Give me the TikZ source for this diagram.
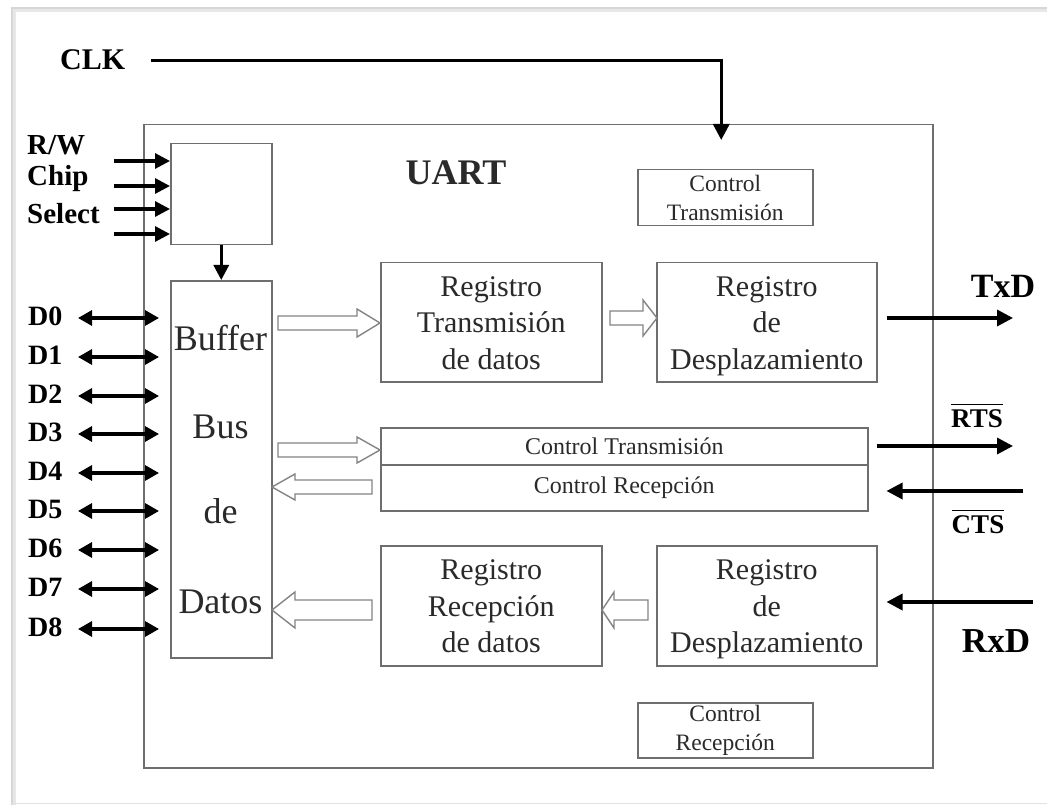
\documentclass[tikz,border=0pt]{standalone}
\usepackage{fontspec}
\setmainfont{Liberation Serif}
\usetikzlibrary{arrows.meta}
\definecolor{boxline}{HTML}{6E6E6E}
\definecolor{ink}{HTML}{2A2A2A}
\definecolor{pagefr}{HTML}{D6D6D6}
\newcommand\fsz[2]{\fontsize{#1}{#2}\selectfont}
% hollow block arrows: {x start}{x tip}{y}{shaft half}{head half}{head length}
\newcommand\hollowarrow[6]{%
  \draw[hollow] (#1,#3-#4) -- ({#2-(#6)*sign(#2-#1)},#3-#4) -- ({#2-(#6)*sign(#2-#1)},#3-#5)
    -- (#2,#3) -- ({#2-(#6)*sign(#2-#1)},#3+#5) -- ({#2-(#6)*sign(#2-#1)},#3+#4) -- (#1,#3+#4) -- cycle;}
\tikzset{
  blk/.style={draw=boxline, line width=1.5pt, inner sep=0pt, anchor=north west, text=ink, align=center},
  regtxt/.style={font=\fsz{30}{36.5}, text=ink, align=center, inner sep=0pt, yshift=-4pt},
  ctltxt/.style={font=\fsz{23.5}{29}},
  sig/.style={line width=3.4pt, -{Triangle[length=16pt,width=16pt]}},
  bus/.style={line width=3.1pt, {Triangle[length=14pt,width=15pt]}-{Triangle[length=14pt,width=15pt]}},
  pin/.style={font=\fsz{28}{30}\bfseries, text=black, inner sep=0pt},
  hollow/.style={draw=boxline!85, line width=1.4pt, fill=white, line join=miter},
}
\begin{document}
\begin{tikzpicture}[x=1pt,y=-1pt]
\useasboundingbox (0,0) rectangle (1047,805);
\fill[white] (0,0) rectangle (1047,805);
% sheet edge with a faint shadow
\draw[pagefr!60, line width=4pt] (14,805) -- (14,10) -- (1047,10);
\draw[pagefr, line width=1.2pt] (12,805) -- (12,8) -- (1047,8);
\draw[pagefr!70, line width=1pt] (12,803) -- (1047,803);

% outer UART block
\node[blk, minimum width=789pt, minimum height=643pt] (uart) at (143,124) {};
\node[font=\fsz{36}{40}\bfseries, text=ink, inner sep=0pt, anchor=base] (title) at (456,185) {UART};

% control inputs block and data buffer
\node[blk, minimum width=101pt, minimum height=101pt] (sel) at (170,143) {};
\node[blk, minimum width=101pt, minimum height=377pt] (buf) at (170,280) {};
\node[font=\fsz{36}{40}, text=ink, inner sep=0pt, anchor=base] (b1) at (220.5,350) {Buffer};
\node[font=\fsz{36}{40}, text=ink, inner sep=0pt, anchor=base] (b2) at (220.5,438) {Bus};
\node[font=\fsz{36}{40}, text=ink, inner sep=0pt, anchor=base] (b3) at (220.5,523) {de};
\node[font=\fsz{36}{40}, text=ink, inner sep=0pt, anchor=base] (b4) at (220.5,613) {Datos};

% control boxes
\node[blk, ctltxt, minimum width=175pt, minimum height=56pt] (ctx) at (637,169) {Control\\Transmisión};
\node[blk, ctltxt, minimum width=175pt, minimum height=55pt] (crx) at (637,702) {Control\\Recepción};

% registers
\node[blk, minimum width=221pt, minimum height=119pt] (rtx) at (380,262) {};
\node[blk, minimum width=220pt, minimum height=119pt] (dtx) at (656,262) {};
\node[blk, minimum width=221pt, minimum height=120pt] (rrx) at (380,545) {};
\node[blk, minimum width=220pt, minimum height=120pt] (drx) at (656,545) {};
\node[regtxt] (rtxt) at (rtx.center) {Registro\\Transmisión\\de datos\vphantom{p}};
\node[regtxt] (dtxt) at (dtx.center) {Registro\\de\\Desplazamiento};
\node[regtxt] (rrxt) at (rrx.center) {Registro\\Recepción\\de datos\vphantom{p}};
\node[regtxt] (drxt) at (drx.center) {Registro\\de\\Desplazamiento};

% flow control strip
\node[blk, font=\fsz{24}{28}, minimum width=487pt, minimum height=37pt] (fct) at (380,427) {Control Transmisión};
\node[blk, font=\fsz{24}{28}, minimum width=487pt, minimum height=46pt] (fcr) at (380,464) {Control Recepción};

% clock
\node[pin, font=\fsz{30}{32}\bfseries, anchor=base west] (clk) at (60,70) {CLK};
\draw[sig] ([xshift=26pt]clk.east) -| ([xshift=-4pt,yshift=29pt]ctx.north);

% chip select / read-write inputs
\node[pin, font=\fsz{29}{31}\bfseries, anchor=base west] (rw) at (27,155) {R/W};
\node[pin, font=\fsz{29}{31}\bfseries, anchor=base west] (chip) at (27,186) {Chip};
\node[pin, font=\fsz{29}{31}\bfseries, anchor=base west] (select) at (27,224) {Select};
\foreach \yy/\nm in {161/ia,186/ib,209/ic,234/id}{
  \coordinate (\nm) at (114,\yy);
  \draw[sig, line width=3.1pt, -{Triangle[length=15pt,width=15pt]}] (\nm) -- (sel.west |- \nm);
}
\draw[sig, line width=3.1pt, -{Triangle[length=15pt,width=15pt]}] (sel.south) -- (buf.north);

% data lines
\foreach \yy [count=\i from 0] in {318,357,396,434,473,511,550,589,629}{
  \node[pin, anchor=west] (d\i) at (28,\yy-2) {D\i};
  \coordinate (dl\i) at (78,\yy);
  \draw[bus] (dl\i) -- ([xshift=-11pt]buf.west |- dl\i);
}

% internal data paths
\hollowarrow{278}{380}{323}{7}{14}{23}
\hollowarrow{610}{657}{318}{7}{18}{14}
\hollowarrow{278}{380}{450}{7}{13}{23}
\hollowarrow{372}{272}{487}{7}{13}{23}
\hollowarrow{372}{272}{610}{10}{18}{23}
\hollowarrow{648}{602}{610}{10}{18}{12}

% serial lines
\coordinate (txo) at (1013,318);
\draw[sig] ([xshift=9pt]dtx.east |- txo) -- (txo);
\node[pin, font=\fsz{34}{36}\bfseries, anchor=base] (txd) at (1003,297) {TxD};

\coordinate (rtso) at (1013,446);
\draw[sig] ([xshift=8pt]fct.east |- rtso) -- (rtso);
\node[pin, font=\fsz{27}{29}\bfseries, anchor=base] (rts) at (977,427) {$\overline{\mbox{\raisebox{0pt}[21pt][0pt]{RTS}}}$};

\coordinate (ctsi) at (1023,491);
\draw[sig] (ctsi) -- ([xshift=18pt]fcr.east |- ctsi);
\node[pin, font=\fsz{27}{29}\bfseries, anchor=base] (cts) at (978,533) {$\overline{\mbox{\raisebox{0pt}[21pt][0pt]{CTS}}}$};

\coordinate (rxi) at (1033,602);
\draw[sig] (rxi) -- ([xshift=9pt]drx.east |- rxi);
\node[pin, font=\fsz{35}{37}\bfseries, anchor=base] (rxd) at (996,652) {RxD};
\end{tikzpicture}
\end{document}
